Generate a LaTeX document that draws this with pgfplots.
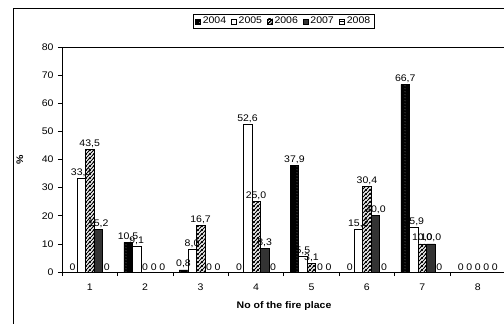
\documentclass[border=0pt]{standalone}
\usepackage{fontspec}
\setmainfont[FakeStretch=1.1]{Liberation Sans}
\usepackage{pgfplots}
\pgfplotsset{compat=1.18}
\usepackage{pgfplotstable}
\usetikzlibrary{patterns}

\pgfdeclarepatternformonly{thickne}{\pgfqpoint{0bp}{0bp}}{\pgfqpoint{3.6bp}{3.6bp}}{\pgfqpoint{3.6bp}{3.6bp}}{%
  \pgfsetlinewidth{1.15bp}%
  \pgfpathmoveto{\pgfqpoint{-1bp}{-1bp}}\pgfpathlineto{\pgfqpoint{4.6bp}{4.6bp}}%
  \pgfpathmoveto{\pgfqpoint{-1bp}{2.6bp}}\pgfpathlineto{\pgfqpoint{1bp}{4.6bp}}%
  \pgfpathmoveto{\pgfqpoint{2.6bp}{-1bp}}\pgfpathlineto{\pgfqpoint{4.6bp}{1bp}}%
  \pgfusepath{stroke}}

\pgfdeclarepatternformonly{wdots}{\pgfqpoint{0bp}{0bp}}{\pgfqpoint{8.5bp}{3bp}}{\pgfqpoint{8.5bp}{3bp}}{%
  \pgfpathcircle{\pgfqpoint{4.25bp}{1.5bp}}{0.45bp}%
  \pgfusepath{fill}}

\pgfplotstableread{
x a al b bl c cl d dl e el
1 0 0 33.3 33,3 43.5 43,5 15.2 15,2 0 0
2 10.5 10,5 9.1 9,1 0 0 0 0 0 0
3 0.8 0,8 8.0 8,0 16.7 16,7 0 0 0 0
4 0 0 52.6 52,6 25.0 25,0 8.3 8,3 0 0
5 37.9 37,9 5.5 5,5 3.1 3,1 0 0 0 0
6 0 0 15.2 15,2 30.4 30,4 20.0 20,0 0 0
7 66.7 66,7 15.9 15,9 10.0 10,0 10.0 10,0 0 0
8 0 0 0 0 0 0 0 0 0 0
}\data

\definecolor{dk}{HTML}{333333}

\begin{document}
\begin{tikzpicture}
\path[use as bounding box] (0bp,0bp) rectangle (504bp,324bp);
\draw[line width=0.8bp] (13bp,-20bp) rectangle (540bp,316bp);
\begin{axis}[
  at={(62bp,52bp)}, anchor=south west,
  scale only axis, width=443.5bp, height=225bp,
  xmin=0.5, xmax=8.5, ymin=0, ymax=80,
  ybar=0pt, bar width=0.154,
  axis line style={line width=0.7bp},
  xtick={1,...,8},
  minor xtick={0.5,1.5,...,8.5},
  ytick={0,10,...,80},
  tick align=outside,
  xtick pos=bottom, ytick pos=left,
  major tick length=4bp, minor tick length=4bp,
  major x tick style={draw=none},
  tick style={line width=0.6bp, black},
  /pgf/number format/assume math mode=true,
  tick label style={font=\fontsize{9.6}{11}\selectfont},
  xticklabel style={yshift=-4bp},
  yticklabel style={xshift=-1bp},
  xlabel={\textbf{No of the fire place}},
  xlabel style={at={(axis description cs:0.5006,-0.151)}, anchor=center, font=\fontsize{9.6}{11}\selectfont},
  ylabel={\textbf{\%}},
  ylabel style={at={(axis description cs:-0.095,0.5)}, anchor=center, rotate=0, font=\fontsize{9.6}{11}\selectfont},
  point meta=explicit symbolic,
  nodes near coords,
  every node near coord/.append style={font=\fontsize{9.6}{11}\selectfont, black, inner sep=1.5bp},
  legend columns=5,
  legend style={at={(axis description cs:0.5,1.08)}, anchor=south, draw=black, line width=0.7bp,
    font=\fontsize{9.6}{11}\selectfont, inner xsep=2bp, inner ysep=1.2bp,
    /tikz/every even column/.append style={column sep=3bp}},
]
\addplot[draw=black, line width=0.5bp, fill=black, postaction={pattern=wdots, pattern color=white}, bar shift=-0.308,
  legend image code/.code={\draw[fill=black, line width=0.5bp] (0bp,-2.5bp) rectangle (5bp,2.5bp);}]
  table[x=x, y=a, meta=al] {\data};
\addlegendentry{2004}
\addplot[draw=black, line width=0.5bp, fill=white, bar shift=-0.154,
  legend image code/.code={\draw[fill=white, line width=0.5bp] (0bp,-2.5bp) rectangle (5bp,2.5bp);}]
  table[x=x, y=b, meta=bl] {\data};
\addlegendentry{2005}
\addplot[draw=black, line width=0.5bp, fill=white, postaction={pattern=thickne}, bar shift=0,
  legend image code/.code={\draw[fill=white, line width=0.5bp, postaction={pattern=thickne}] (0bp,-2.5bp) rectangle (5bp,2.5bp);}]
  table[x=x, y=c, meta=cl] {\data};
\addlegendentry{2006}
\addplot[draw=black, line width=0.5bp, fill=dk, bar shift=0.154,
  legend image code/.code={\draw[fill=dk, line width=0.5bp] (0bp,-2.5bp) rectangle (5bp,2.5bp);}]
  table[x=x, y=d, meta=dl] {\data};
\addlegendentry{2007}
\addplot[draw=black, line width=0.5bp, fill=white, bar shift=0.308,
  legend image code/.code={\draw[fill=white, line width=0.5bp] (0bp,-2.5bp) rectangle (5bp,2.5bp); \draw[line width=1bp] (0bp,0bp) -- (5bp,0bp);}]
  table[x=x, y=e, meta=el] {\data};
\addlegendentry{2008}
\end{axis}
\end{tikzpicture}
\end{document}
